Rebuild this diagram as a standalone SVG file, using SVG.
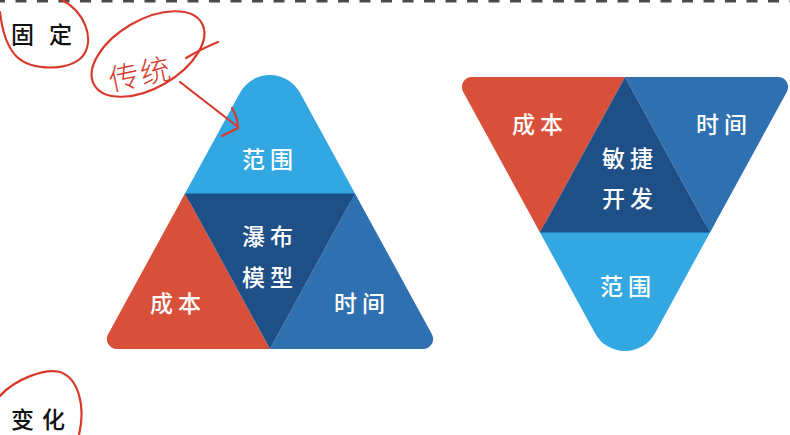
<svg xmlns="http://www.w3.org/2000/svg" width="790" height="435" viewBox="0 0 790 435">
<style>
.lb{fill:#33a7e1}.dk{fill:#1e4f87}.rd{fill:#d9503a}.bl{fill:#2f70b0}
.t{font-family:"Noto Sans CJK SC","Noto Sans",sans-serif;font-size:23px;font-weight:500;fill:#ffffff;text-anchor:middle;dominant-baseline:central;letter-spacing:5px}
.k{font-family:"Noto Sans CJK SC","Noto Sans",sans-serif;font-size:23px;font-weight:500;fill:#111111;dominant-baseline:central}
.ink{fill:none;stroke:#d8392b;stroke-width:2.2;stroke-linecap:round;stroke-linejoin:round}
</style>
<defs>
<clipPath id="clipL"><path d="M240.16,92.58 A34,34 0 0 1 299.84,92.58 L431.91,334.21 A10,10 0 0 1 423.14,349 L116.86,349 A10,10 0 0 1 108.09,334.21 Z"/></clipPath>
<clipPath id="clipR"><path transform="translate(355,426) scale(1,-1)" d="M240.16,92.58 A34,34 0 0 1 299.84,92.58 L431.91,334.21 A10,10 0 0 1 423.14,349 L116.86,349 A10,10 0 0 1 108.09,334.21 Z"/></clipPath>
</defs>
<rect width="790" height="435" fill="#ffffff"/>
<line x1="0" y1="1" x2="790" y2="1" stroke="#4a4a4a" stroke-width="3" stroke-dasharray="11 10.5" stroke-dashoffset="6"/>

<g id="waterfall" clip-path="url(#clipL)">
  <g id="w-scope"><polygon class="lb" points="270,30 176,202 364,202"/><text class="t" x="270" y="158">范围</text></g>
  <g id="w-cost"><polygon class="rd" points="90,360 185,193.5 270,349 270,360"/><text class="t" x="178" y="302">成本</text></g>
  <g id="w-time"><polygon class="bl" points="450,360 355,193.5 270,349 270,360"/><text class="t" x="362" y="302">时间</text></g>
  <g id="w-core"><polygon class="dk" points="185,193.5 355,193.5 270,349"/><text class="t" x="270" y="235">瀑布</text><text class="t" x="270" y="276">模型</text></g>
</g>

<g id="agile" clip-path="url(#clipR)">
  <g id="a-scope"><polygon class="lb" points="625,396 531,224 719,224"/><text class="t" x="628" y="285">范围</text></g>
  <g id="a-cost"><polygon class="rd" points="445,66 540,232.5 625,77 625,66"/><text class="t" x="540" y="123">成本</text></g>
  <g id="a-time"><polygon class="bl" points="805,66 710,232.5 625,77 625,66"/><text class="t" x="724" y="123">时间</text></g>
  <g id="a-core"><polygon class="dk" points="540,232.5 710,232.5 625,77"/><text class="t" x="630" y="157">敏捷</text><text class="t" x="630" y="197">开发</text></g>
</g>

<g id="label-fixed">
  <text class="k" x="11" y="33" letter-spacing="15">固定</text>
  <path class="ink" d="M58,-2 C85,10 96,40 82,57 C68,71 32,71 17,57 C6,46 2,30 0,12"/>
</g>
<g id="label-change">
  <text class="k" x="11" y="418" letter-spacing="8">变化</text>
  <path class="ink" d="M0,396 C15,379 45,368 60,372 C78,378 86,405 79,435"/>
</g>
<g id="note-traditional">
  <path class="ink" d="M94.3,85 A62,34 -30 1 1 201.7,23 A62,34 -30 1 1 94.3,85 Z"/>
  <path class="ink" d="M186,58 C198,51 208,46 218,42"/>
  <text x="140" y="72" transform="rotate(-12 140 72)" font-family="'Noto Sans CJK SC',sans-serif" font-size="30" font-weight="300" fill="#d8392b" text-anchor="middle" dominant-baseline="central" letter-spacing="2">传统</text>
</g>
<g id="connectors">
  <path class="ink" d="M180,82 L238,127"/>
  <path class="ink" d="M232,108 C236,115 238,121 238,128 L222,136"/>
</g>
</svg>
